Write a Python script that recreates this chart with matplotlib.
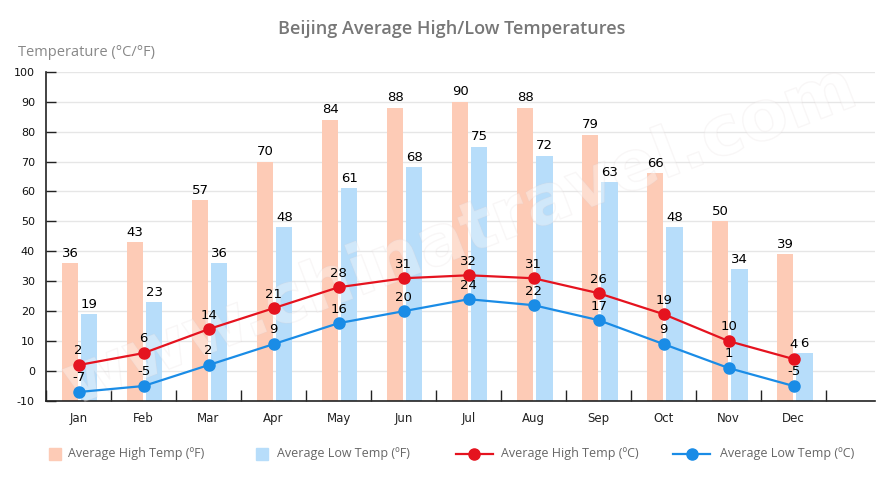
import matplotlib
matplotlib.use("Agg")
import matplotlib.pyplot as plt
import matplotlib.patheffects as pe
from matplotlib.patches import Rectangle
from matplotlib.lines import Line2D
import numpy as np

months = ["Jan", "Feb", "Mar", "Apr", "May", "Jun", "Jul", "Aug", "Sep", "Oct", "Nov", "Dec"]
high_f = [36, 43, 57, 70, 84, 88, 90, 88, 79, 66, 50, 39]
low_f = [19, 23, 36, 48, 61, 68, 75, 72, 63, 48, 34, 6]
high_c = [2, 6, 14, 21, 28, 31, 32, 31, 26, 19, 10, 4]
low_c = [-7, -5, 2, 9, 16, 20, 24, 22, 17, 9, 1, -5]
y_ticks = list(range(-10, 101, 10))

C_HIGH_BAR = "#fdcbb6"
C_LOW_BAR = "#b7ddfa"
C_RED = "#e5131f"
C_BLUE = "#1a8ce6"
FONT_UI = "Open Sans"

W, H = 895, 480
fig = plt.figure(figsize=(W / 100, H / 100), dpi=100)
ax = fig.add_axes([46 / W, 1 - 401 / H, (875 - 46) / W, (401 - 71.7) / H])

x = np.arange(len(months))
ymin = y_ticks[0]
bw = 0.25
ax.bar(x - 0.13, np.array(high_f) - ymin, bottom=ymin, width=bw, color=C_HIGH_BAR, zorder=2)
ax.bar(x + 0.165, np.array(low_f) - ymin, bottom=ymin, width=bw, color=C_LOW_BAR, zorder=2)

# watermark
ax.text(0.5, 0.5, "www.chinatravel.com", transform=ax.transAxes, rotation=21,
        ha="center", va="center", fontsize=50, fontweight="bold", color="white",
        alpha=0.2, zorder=3, family="DejaVu Sans",
        path_effects=[pe.withStroke(linewidth=1.0, foreground="#e0d4d4")])

ax.plot(x, high_c, color=C_RED, lw=1.6, marker="o", ms=8, zorder=5)
ax.plot(x, low_c, color=C_BLUE, lw=1.6, marker="o", ms=8, zorder=5)

lab_kw = dict(ha="center", va="bottom", fontsize=9.5, color="black", zorder=6,
              textcoords="offset points", family="DejaVu Sans")
for i in range(len(months)):
    ax.annotate(str(high_f[i]), (x[i] - 0.13, high_f[i]), xytext=(0, 2.5), **lab_kw)
    ax.annotate(str(low_f[i]), (x[i] + 0.165, low_f[i]), xytext=(0, 2.5), **lab_kw)
    ax.annotate(str(high_c[i]), (x[i], high_c[i]), xytext=(0, 5.5), **lab_kw)
    ax.annotate(str(low_c[i]), (x[i], low_c[i]), xytext=(0, 5.5), **lab_kw)

ax.set_ylim(y_ticks[0], y_ticks[-1])
ax.set_xlim(-0.5, 12.25)
ax.set_yticks(y_ticks)
ax.set_yticklabels([str(v) for v in y_ticks], fontsize=8, color="#111")
ax.set_xticks(x)
ax.set_xticklabels(months, fontsize=8.5, color="#222")
ax.set_xticks(np.arange(-0.5, 12.0, 1.0), minor=True)
ax.tick_params(axis="x", which="major", length=0, pad=8)
ax.tick_params(axis="x", which="minor", direction="in", length=8, color="#222", width=1)
ax.tick_params(axis="y", direction="in", length=7, color="#222", width=1, pad=8)
ax.grid(axis="y", color="#e6e6e6", lw=1, zorder=0)
ax.set_axisbelow(True)
for s in ["top", "right"]:
    ax.spines[s].set_visible(False)
for s in ["left", "bottom"]:
    ax.spines[s].set_color("#222")
    ax.spines[s].set_linewidth(1.2)

fig.text(452 / W, 1 - 29 / H, "Beijing Average High/Low Temperatures", ha="center", va="center",
         fontsize=13, color="#777", family=FONT_UI, fontweight="semibold")
fig.text(18 / W, 1 - 52 / H, "Temperature (°C/°F)", ha="left", va="center",
         fontsize=10.5, color="#888", family=FONT_UI)

# legend
ly = 1 - 454 / H
leg_txt = dict(ha="left", va="center", fontsize=9, color="#666", family=FONT_UI)
fig.add_artist(Rectangle((49 / W, 1 - 460 / H), 12 / W, 12 / H, transform=fig.transFigure,
                         color=C_HIGH_BAR))
fig.text(68 / W, ly, "Average High Temp (ºF)", **leg_txt)
fig.add_artist(Rectangle((256 / W, 1 - 460 / H), 12 / W, 12 / H, transform=fig.transFigure,
                         color=C_LOW_BAR))
fig.text(277 / W, ly, "Average Low Temp (ºF)", **leg_txt)
fig.add_artist(Line2D([456 / W, 493 / W], [ly, ly], transform=fig.transFigure, color=C_RED, lw=1.6))
fig.add_artist(Line2D([474 / W], [ly], transform=fig.transFigure, color=C_RED, marker="o", ms=8))
fig.text(501 / W, ly, "Average High Temp (ºC)", **leg_txt)
fig.add_artist(Line2D([673 / W, 710 / W], [ly, ly], transform=fig.transFigure, color=C_BLUE, lw=1.6))
fig.add_artist(Line2D([692 / W], [ly], transform=fig.transFigure, color=C_BLUE, marker="o", ms=8))
fig.text(720 / W, ly, "Average Low Temp (ºC)", **leg_txt)

fig.savefig("out.png", dpi=100)
